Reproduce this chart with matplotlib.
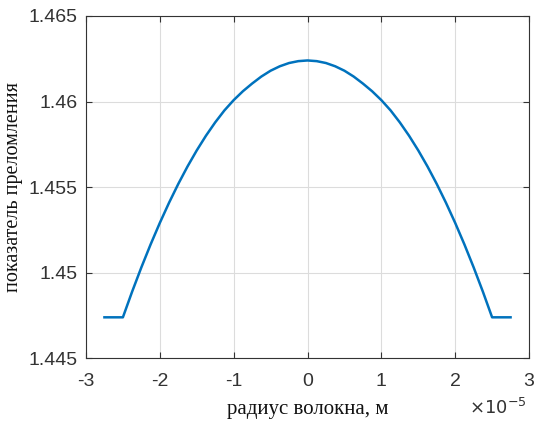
import matplotlib
matplotlib.use("Agg")
import matplotlib.pyplot as plt
from matplotlib.ticker import FuncFormatter

# radius in units of 1e-5 m, index (one half, mirrored)
r_half = [0.0, 0.125, 0.25, 0.375, 0.5, 0.625, 0.75, 0.875, 1.0, 1.125, 1.25,
          1.375, 1.5, 1.625, 1.75, 1.875, 2.0, 2.125, 2.25, 2.375, 2.5, 2.75]
n_half = [1.46240, 1.46236, 1.46225, 1.46206, 1.46180, 1.46146, 1.46105,
          1.46060, 1.46008, 1.45948, 1.45878, 1.45800, 1.45714, 1.45620,
          1.45518, 1.45408, 1.45290, 1.45164, 1.45030, 1.44888, 1.44738,
          1.44738]

r = [-v for v in r_half[:0:-1]] + r_half
n = n_half[:0:-1] + n_half
r_m = [v * 1e-5 for v in r]

x_ticks = [-3, -2, -1, 0, 1, 2, 3]
y_ticks = [1.445, 1.45, 1.455, 1.46, 1.465]

plt.rcParams['axes.unicode_minus'] = False
plt.rcParams['font.family'] = ['Liberation Sans', 'DejaVu Sans']

fig = plt.figure(figsize=(5.36, 4.21), dpi=100)
ax = fig.add_axes([0.1604, 0.1496, 0.8266, 0.8124])

ax.plot(r_m, n, color='#0072BD', lw=1.8, solid_joinstyle='round')

ax.set_xlim(-3e-5, 3e-5)
ax.set_ylim(1.445, 1.465)
ax.set_xticks([t * 1e-5 for t in x_ticks])
ax.set_yticks(y_ticks)
ax.xaxis.set_major_formatter(FuncFormatter(lambda v, p: '%g' % round(v * 1e5, 6)))
ax.yaxis.set_major_formatter(FuncFormatter(lambda v, p: '%g' % round(v, 6)))

ax.grid(True, color='#dcdcdc', lw=0.8)
ax.set_axisbelow(True)
ax.tick_params(direction='in', top=True, right=True, length=4, width=0.8,
               colors='#333333', labelsize=14)
ax.tick_params(axis='x', pad=11)
ax.tick_params(axis='y', pad=6)
for s in ax.spines.values():
    s.set_color('#333333')
    s.set_linewidth(0.8)

serif = ['Liberation Serif', 'DejaVu Serif']
ax.set_xlabel('радиус волокна, м', family=serif, fontsize=15, color='#111111', labelpad=7)
ax.set_ylabel('показатель преломления', family=serif, fontsize=14.5, color='#111111', labelpad=4)

ax.text(0.995, -0.145, r'$\times10^{-5}$', transform=ax.transAxes, ha='right', va='center',
        fontsize=13, color='#333333')

fig.savefig('out.png', dpi=100)
